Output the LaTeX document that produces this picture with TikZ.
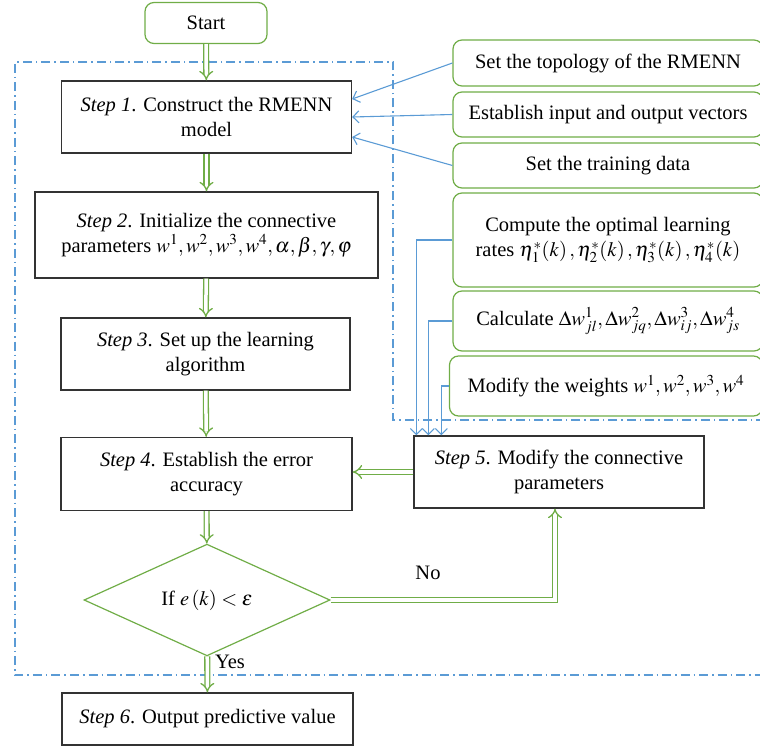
\documentclass[tikz,border=0pt]{standalone}
\usepackage{mathptmx}
\usepackage{fontspec}
\setmainfont{Liberation Serif}
\usetikzlibrary{shapes.geometric,arrows.meta}
\definecolor{leaf}{RGB}{112,173,71}
\definecolor{sky}{RGB}{91,155,213}

\begin{document}
\begin{tikzpicture}[x=1pt, y=-1pt,
    every node/.style={font=\fontsize{20.5}{25}\selectfont},
    stepbox/.style={draw=black!80, line width=1.3pt, fill=white, align=center, inner sep=0pt},
    greenbox/.style={draw=leaf, line width=1.2pt, fill=white, rounded corners=9pt, align=center, inner sep=0pt},
    flow/.style={draw=leaf, line width=1.3pt, double=white, double distance=3.5pt, -{Implies[length=5pt]}},
    feed/.style={draw=sky, line width=1.1pt, -{Straight Barb[length=6pt,width=12pt]}}]
    \useasboundingbox (0,0) rectangle (760,746);
    \draw[sky, line width=1.4pt, dash pattern=on 9pt off 4pt on 1.5pt off 4pt]
        (765,420) -- (393,420) -- (393,62) -- (15,62) -- (15,675) -- (765,675);
    \node[greenbox, minimum width=122pt, minimum height=41pt] (start) at (206,23) {Start};
    \node[stepbox, minimum width=290pt, minimum height=72pt] (step1) at (206.5,117) {\textit{Step 1}. Construct the RMENN\\ model};
    \node[stepbox, minimum width=343pt, minimum height=86pt] (step2) at (206.5,235) {\textit{Step 2}. Initialize the connective\\ parameters $w^1, w^2, w^3, w^4, \alpha, \beta, \gamma, \varphi$};
    \node[stepbox, minimum width=289pt, minimum height=72pt] (step3) at (205.5,354) {\textit{Step 3}. Set up the learning\\ algorithm};
    \node[stepbox, minimum width=291pt, minimum height=73pt] (step4) at (206.5,474) {\textit{Step 4}. Establish the error\\ accuracy};
    \node[stepbox, minimum width=290pt, minimum height=72pt] (step5) at (559,472) {\textit{Step 5}. Modify the connective\\ parameters};
    \node[draw=leaf, line width=1.2pt, diamond, minimum width=246pt, minimum height=110pt, inner sep=0pt] (check) at (207,600) {If $e\,(k) < \varepsilon$};
    \node[stepbox, minimum width=291pt, minimum height=52pt] (step6) at (207.5,719) {\textit{Step 6}. Output predictive value};
    \node[greenbox, minimum width=310pt, minimum height=46pt] (topo) at (608,63) {Set the topology of the RMENN};
    \node[greenbox, minimum width=310pt, minimum height=45pt] (vect) at (608,114.5) {Establish input and output vectors};
    \node[greenbox, minimum width=310pt, minimum height=45pt] (data) at (608,165.5) {Set the training data};
    \node[greenbox, minimum width=310pt, minimum height=94pt] (rate) at (608,240) {Compute the optimal learning\\ rates $\eta_1^*(k)\,, \eta_2^*(k)\,, \eta_3^*(k)\,, \eta_4^*(k)$};
    \node[greenbox, minimum width=310pt, minimum height=60pt] (delta) at (608,321) {Calculate $\Delta w_{jl}^1, \Delta w_{jq}^2, \Delta w_{ij}^3, \Delta w_{js}^4$};
    \node[greenbox, minimum width=313pt, minimum height=60pt] (weig) at (606,386) {Modify the weights $w^1, w^2, w^3, w^4$};
    \draw[flow] (start) -- (step1);
    \draw[flow] (step1) -- (step2);
    \draw[flow] (step2) -- (step3);
    \draw[flow] (step3) -- (step4);
    \draw[flow] (step4) -- (check);
    \draw[flow] (check) -- (step6);
    \draw[flow] (step5.west) -- (step5.west -| step4.east);
    \draw[flow] (check.east) -| ([xshift=-4pt]step5.south);
    \draw[feed] (topo.west) -- ([yshift=18pt]step1.east);
    \draw[feed] (vect.west) -- (step1.east);
    \draw[feed] (data.west) -- ([yshift=-20pt]step1.east);
    \draw[feed] (rate.west) -| ([xshift=3pt]step5.north west);
    \draw[feed] (delta.west) -| ([xshift=15pt]step5.north west);
    \draw[feed] (weig.west) -| ([xshift=28pt]step5.north west);
    \node (no) at (428,573) {No};
    \node (yes) at (230,662) {Yes};
\end{tikzpicture}
\end{document}
